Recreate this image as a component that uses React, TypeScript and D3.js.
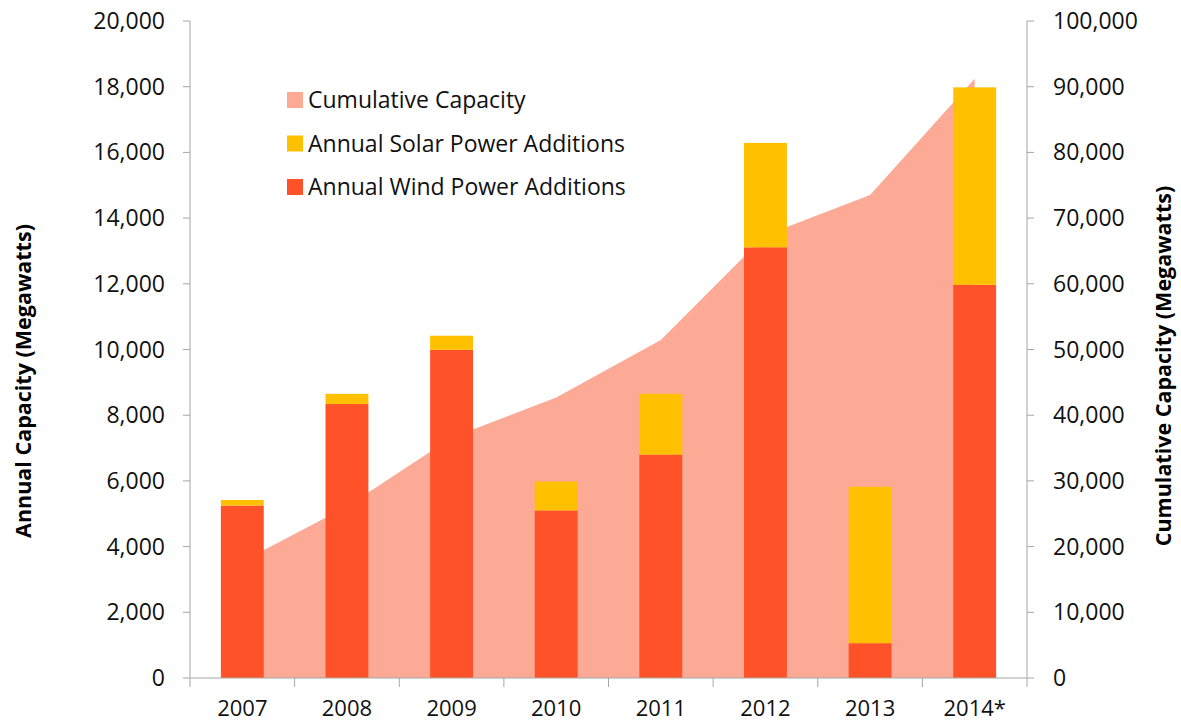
import React from "react";
import * as d3 from "d3";

const years = ["2007", "2008", "2009", "2010", "2011", "2012", "2013", "2014*"];
const windAdditions = [5250, 8340, 9990, 5100, 6800, 13110, 1060, 11970];
const solarAdditions = [170, 310, 430, 880, 1850, 3180, 4760, 6010];
const cumulativeCapacity = [17750, 26100, 36550, 42700, 51450, 67400, 73500, 91200];
const leftTicks = [0, 2000, 4000, 6000, 8000, 10000, 12000, 14000, 16000, 18000, 20000];
const rightTicks = [0, 10000, 20000, 30000, 40000, 50000, 60000, 70000, 80000, 90000, 100000];

const FONT = "'Open Sans', 'Liberation Sans', sans-serif";
const COL_AREA = "#FCAA96";
const COL_WIND = "#FF5229";
const COL_SOLAR = "#FFC000";
const COL_AXIS = "#A6A6A6";
const COL_TEXT = "#111";

export default function App() {
  const W = 1181, H = 725;
  const left = 190, right = 1027, top = 21, bottom = 678;

  const x = d3.scaleBand<string>().domain(years).range([left, right]).padding(0);
  const bw = x.bandwidth();
  const barW = bw * 0.41;
  const cx = (c: string) => (x(c) as number) + bw / 2;

  const yL = d3.scaleLinear().domain([0, 20000]).range([bottom, top]);
  const yR = d3.scaleLinear().domain([0, 100000]).range([bottom, top]);
  const fmt = d3.format(",");

  const area = d3
    .area<number>()
    .x((_, i) => cx(years[i]))
    .y0(yR(0))
    .y1((d) => yR(d));

  const legend = [
    { label: "Cumulative Capacity", color: COL_AREA },
    { label: "Annual Solar Power Additions", color: COL_SOLAR },
    { label: "Annual Wind Power Additions", color: COL_WIND },
  ];

  return (
    <svg
      width={W}
      height={H}
      style={{ position: "absolute", left: 0, top: 0, background: "#fff" }}
      fontFamily={FONT}
    >
      <rect x={0} y={0} width={W} height={H} fill="#fff" />
      <path d={area(cumulativeCapacity) || ""} fill={COL_AREA} />

      {years.map((c, i) => {
        const bx = (x(c) as number) + (bw - barW) / 2;
        const w = windAdditions[i];
        const s = solarAdditions[i];
        return (
          <g key={c}>
            <rect x={bx} y={yL(w)} width={barW} height={yL(0) - yL(w)} fill={COL_WIND} />
            <rect x={bx} y={yL(w + s)} width={barW} height={yL(w) - yL(w + s)} fill={COL_SOLAR} />
          </g>
        );
      })}

      {/* left axis */}
      <line x1={left} x2={left} y1={top} y2={bottom} stroke={COL_AXIS} strokeWidth={1} />
      {leftTicks.map((t) => (
        <g key={"l" + t}>
          <line x1={left - 7} x2={left} y1={yL(t)} y2={yL(t)} stroke={COL_AXIS} />
          <text x={165} y={yL(t)} dy="0.35em" textAnchor="end" fontSize={23} fill={COL_TEXT}>
            {fmt(t)}
          </text>
        </g>
      ))}

      {/* right axis */}
      <line x1={right} x2={right} y1={top} y2={bottom} stroke={COL_AXIS} strokeWidth={1} />
      {rightTicks.map((t) => (
        <g key={"r" + t}>
          <line x1={right} x2={right + 7} y1={yR(t)} y2={yR(t)} stroke={COL_AXIS} />
          <text x={1053} y={yR(t)} dy="0.35em" textAnchor="start" fontSize={23} fill={COL_TEXT}>
            {fmt(t)}
          </text>
        </g>
      ))}

      {/* bottom axis */}
      <line x1={left} x2={right} y1={bottom} y2={bottom} stroke={COL_AXIS} />
      {years.concat([""]).map((c, i) => {
        const bx = left + i * bw;
        return <line key={"bt" + i} x1={bx} x2={bx} y1={bottom} y2={bottom + 9} stroke={COL_AXIS} />;
      })}
      {years.map((c) => (
        <text key={"bl" + c} x={cx(c)} y={716} textAnchor="middle" fontSize={22} fill={COL_TEXT}>
          {c}
        </text>
      ))}

      {/* axis titles */}
      <text
        transform={`translate(31, 381) rotate(-90)`}
        textAnchor="middle"
        fontSize={21.5}
        fontWeight="bold"
        fill="#000"
      >
        Annual Capacity (Megawatts)
      </text>
      <text
        transform={`translate(1171, 366) rotate(-90)`}
        textAnchor="middle"
        fontSize={21.5}
        fontWeight="bold"
        fill="#000"
      >
        Cumulative Capacity (Megawatts)
      </text>

      {/* legend */}
      {legend.map((l, i) => (
        <g key={l.label} transform={`translate(287, ${100 + i * 43.5})`}>
          <rect x={0} y={-8} width={16} height={16} fill={l.color} />
          <text x={21} y={0} dy="0.35em" fontSize={23} fill={COL_TEXT}>
            {l.label}
          </text>
        </g>
      ))}
    </svg>
  );
}
